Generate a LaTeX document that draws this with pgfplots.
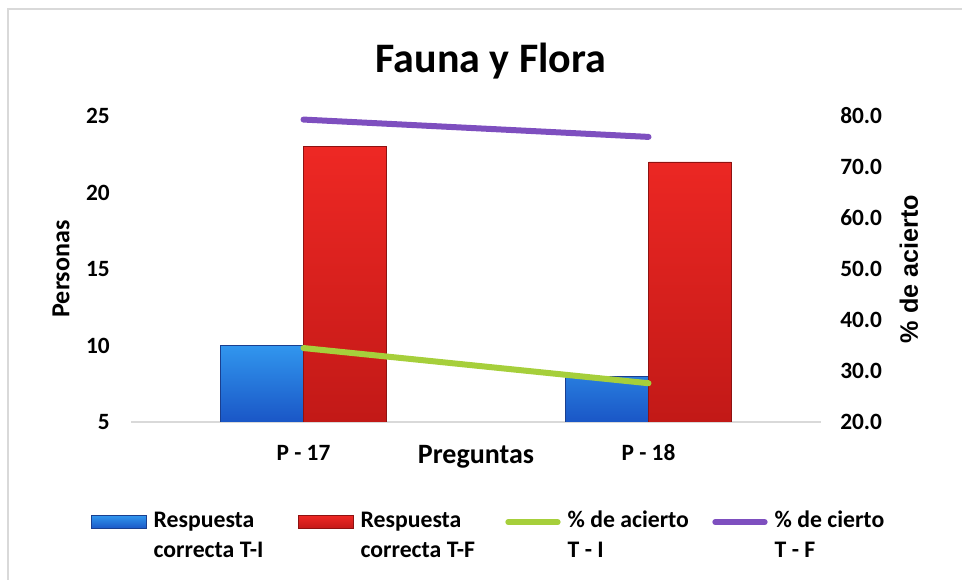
\documentclass[border=0pt]{standalone}
\usepackage{pgfplots}
\pgfplotsset{compat=1.18}
\usepackage{fontspec}
\setmainfont{Carlito}
\newfontfamily\arialb{Liberation Sans}
\definecolor{bluetop}{HTML}{3196EE}
\definecolor{bluebot}{HTML}{1A56C6}
\definecolor{blueedge}{HTML}{1A3F8F}
\definecolor{redtop}{HTML}{EE2824}
\definecolor{redbot}{HTML}{C21917}
\definecolor{rededge}{HTML}{8E1211}
\definecolor{limeg}{HTML}{A6CF3B}
\definecolor{purp}{HTML}{7E4FBF}
\definecolor{basegray}{HTML}{D9D9D9}
\begin{document}
\begin{tikzpicture}
\path[use as bounding box] (0pt,0pt) rectangle (721.5pt,435pt);
\draw[basegray, line width=1pt] (6pt,0pt) -- (6pt,428.25pt) -- (721.5pt,428.25pt);
\coordinate (O) at (98.25pt,118.5pt);
\pgfplotsset{
  common/.style={
    at={(O)}, anchor=south west, scale only axis,
    width=517.5pt, height=229.5pt,
    xmin=-0.5, xmax=1.5,
    major tick length=0pt, tick style={draw=none},
    /pgf/number format/assume math mode=true,
    ticklabel style={font=\fontsize{17.5}{21}\selectfont\bfseries, inner sep=0pt},
  }
}
\begin{axis}[common,
  ymin=5, ymax=25, ytick={5,10,15,20,25},
  xtick={0,1}, xticklabels={P - 17, P - 18},
  axis x line*=bottom, axis y line*=left,
  y axis line style={draw=none},
  x axis line style={draw=basegray, line width=1.2pt},
  xticklabel style={anchor=base, yshift=-29.25pt},
  yticklabel style={anchor=east, xshift=-15.75pt},
  xlabel={Preguntas},
  xlabel style={at={(axis description cs:0.5,-0.1356)}, anchor=base, font=\fontsize{21}{24}\selectfont\bfseries},
  ylabel={Personas},
  ylabel style={at={(axis description cs:-0.1014,0.5)}, anchor=center, font=\fontsize{19.5}{23}\selectfont\bfseries},
  title={Fauna y Flora},
  title style={at={(axis description cs:0.5217,1.1176)}, anchor=base, font=\fontsize{31.5}{36}\selectfont\bfseries},
  ybar, bar width=0.24,
]
\addplot[ybar, bar shift=-0.12, top color=bluetop, bottom color=bluebot, draw=blueedge, line width=0.5pt]
  coordinates {(0,10) (1,8)};
\addplot[ybar, bar shift=0.12, top color=redtop, bottom color=redbot, draw=rededge, line width=0.5pt]
  coordinates {(0,23) (1,22)};
\end{axis}
\begin{axis}[common,
  ymin=20, ymax=80, ytick={20,30,...,80},
  axis x line=none, axis y line*=right,
  y axis line style={draw=none},
  yticklabel style={anchor=west, xshift=14.25pt,
    /pgf/number format/.cd, fixed, fixed zerofill, precision=1},
  ylabel={\arialb\bfseries \% de acierto},
  ylabel style={at={(axis description cs:1.1275,0.5)}, anchor=center, font=\fontsize{18.9}{22}\selectfont},
  legend columns=4,
  legend style={at={(axis description cs:-0.0637,-0.2615)}, anchor=north west, draw=none, fill=none,
    font=\fontsize{17.8}{22.5}\selectfont\bfseries,
    nodes={inner sep=1.5pt},
    /tikz/every even column/.append style={column sep=0pt}},
  legend cell align=left,
]
\addlegendimage{legend image code/.code={\path[draw=none, fill=none] (0pt,0pt) -- (45pt,0pt); \draw[top color=bluetop, bottom color=bluebot, draw=blueedge, line width=0.5pt] (0pt,-7.75pt) rectangle (41.25pt,2.25pt);}}
\addlegendentry{\makebox[107pt][l]{\begin{tabular}[t]{@{}l@{}}Respuesta\\correcta T-I\end{tabular}}}
\addlegendimage{legend image code/.code={\path[draw=none, fill=none] (0pt,0pt) -- (45pt,0pt); \draw[top color=redtop, bottom color=redbot, draw=rededge, line width=0.5pt] (0pt,-7.75pt) rectangle (41.25pt,2.25pt);}}
\addlegendentry{\makebox[107pt][l]{\begin{tabular}[t]{@{}l@{}}Respuesta\\correcta T-F\end{tabular}}}
\addplot[limeg, line width=4.5pt, line cap=round, legend image code/.code={\path[draw=none, fill=none] (0pt,0pt) -- (45pt,0pt); \draw[limeg, line width=4.5pt, line cap=round] (2pt,-2.75pt) -- (39pt,-2.75pt);}]
  coordinates {(0,34.5) (1,27.6)};
\addlegendentry{\makebox[107pt][l]{\begin{tabular}[t]{@{}l@{}}\% de acierto\\T - I\end{tabular}}}
\addplot[purp, line width=4.5pt, line cap=round, legend image code/.code={\path[draw=none, fill=none] (0pt,0pt) -- (45pt,0pt); \draw[purp, line width=4.5pt, line cap=round] (2pt,-2.75pt) -- (39pt,-2.75pt);}]
  coordinates {(0,79.3) (1,75.9)};
\addlegendentry{\makebox[107pt][l]{\begin{tabular}[t]{@{}l@{}}\% de cierto\\T - F\end{tabular}}}
\end{axis}
\end{tikzpicture}
\end{document}
